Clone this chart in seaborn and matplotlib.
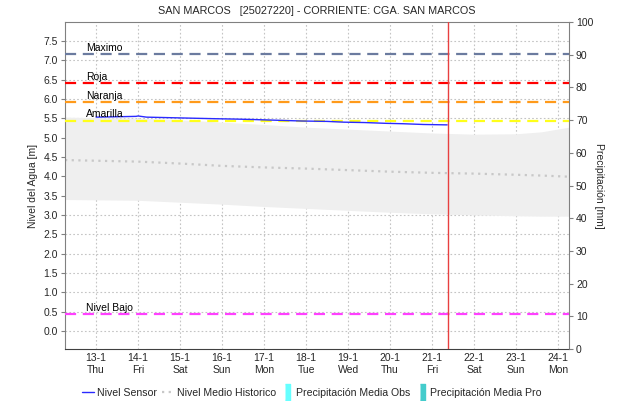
import numpy as np
import pandas as pd
import matplotlib
matplotlib.use('Agg')
import matplotlib.pyplot as plt
from matplotlib.lines import Line2D
import seaborn as sns

# days counted from 13-1 00:00
day_labels = ['13-1\nThu', '14-1\nFri', '15-1\nSat', '16-1\nSun', '17-1\nMon', '18-1\nTue',
              '19-1\nWed', '20-1\nThu', '21-1\nFri', '22-1\nSat', '23-1\nSun', '24-1\nMon']

sensor_t = [0.0, 0.5, 0.95, 1.0, 1.2, 2.0, 2.8, 3.3, 3.7, 4.3, 4.9, 5.5, 5.9, 6.4, 6.9, 7.3, 7.8, 8.36]
sensor_v = [5.53, 5.54, 5.55, 5.56, 5.53, 5.51, 5.49, 5.48, 5.47, 5.45, 5.43, 5.42, 5.40, 5.39, 5.37, 5.36, 5.34, 5.33]

hist_t = [-0.74, 1, 2, 3, 4, 5, 6, 7, 8, 9, 10, 10.6, 11.26]
hist_upper = [5.53, 5.50, 5.46, 5.40, 5.34, 5.27, 5.22, 5.17, 5.12, 5.09, 5.10, 5.15, 5.27]
hist_lower = [3.40, 3.38, 3.33, 3.28, 3.22, 3.17, 3.12, 3.07, 3.03, 3.00, 2.98, 2.97, 2.97]
hist_mean = [4.42, 4.38, 4.33, 4.27, 4.23, 4.20, 4.16, 4.12, 4.09, 4.07, 4.04, 4.02, 3.99]

thr_names = ['Maximo', 'Roja', 'Naranja', 'Amarilla', 'Nivel Bajo']
thr_values = [7.15, 6.42, 5.92, 5.44, 0.43]
thr_colors = ['#6b7b9f', '#ff0000', '#ff9a1a', '#ffff1a', '#ff40ff']

now_t = 8.38

sns.set_style('white')
plt.rcParams['font.family'] = ['Liberation Sans', 'DejaVu Sans']
plt.rcParams['font.size'] = 7.5

fig = plt.figure(figsize=(6.21, 4.01), dpi=100)
ax = fig.add_axes([65/621, 52/401, 504/621, 327/401])

ax.fill_between(hist_t, hist_lower, hist_upper, color='#efefef', lw=0, zorder=1)
hist_df = pd.DataFrame({'t': hist_t, 'v': hist_mean})
sns.lineplot(data=hist_df, x='t', y='v', ax=ax, color='#c8c8c8', lw=1.6,
             linestyle=(0, (1, 2)), zorder=2)

for name, val, col in zip(thr_names, thr_values, thr_colors):
    ax.axhline(val, color=col, lw=1.6, ls=(0, (5, 3)), zorder=3)
    ax.text(-0.24, val + 0.03, name, fontsize=7.5, color='black', va='bottom', zorder=5)

sens_df = pd.DataFrame({'t': sensor_t, 'v': sensor_v})
sns.lineplot(data=sens_df, x='t', y='v', ax=ax, color='#2a2aff', lw=1.0, zorder=4)

ax.axvline(now_t, color='#e84040', lw=1.0, zorder=5)

ax.set_xlim(-0.74, 11.26)
ax.set_ylim(-0.465, 7.99)
ax.set_xticks(range(len(day_labels)))
ax.set_xticklabels(day_labels)
ax.set_yticks(np.arange(0, 7.6, 0.5))
ax.set_yticklabels([f'{v:.1f}' for v in np.arange(0, 7.6, 0.5)])
ax.grid(True, color='#c4c4c4', ls=(0, (1.5, 2)), lw=0.8)
ax.set_axisbelow(True)
ax.tick_params(axis='y', length=3, color='#808080', pad=2, labelsize=7.5)
ax.tick_params(axis='x', length=0, pad=3, labelsize=7.5)
ax.set_xlabel('')
ax.set_ylabel('Nivel del Agua [m]', fontsize=7.5, labelpad=4)
for s in ax.spines.values():
    s.set_color('#808080')
    s.set_linewidth(0.8)
ax.spines['bottom'].set_color('#404040')
ax.spines['bottom'].set_linestyle((0, (1, 1)))

ax2 = ax.twinx()
prec_obs = [0] * len(day_labels)
prec_pro = [0] * len(day_labels)
ax2.bar(range(len(day_labels)), prec_obs, color='#66ffff', width=0.4)
ax2.bar(range(len(day_labels)), prec_pro, color='#44cccc', width=0.4)
ax2.set_ylim(0, 100)
ax2.set_yticks(range(0, 101, 10))
ax2.tick_params(axis='y', length=3, color='#808080', pad=2, labelsize=7.5)
ax2.set_ylabel('Precipitación [mm]', rotation=270, fontsize=7.5, labelpad=8)
for s in ax2.spines.values():
    s.set_visible(False)

ax.set_title('SAN MARCOS   [25027220] - CORRIENTE: CGA. SAN MARCOS', fontsize=7.8, pad=6)

bar_marker = [(-0.3, -1), (0.3, -1), (0.3, 1), (-0.3, 1)]
handles = [Line2D([], [], color='#2a2aff', lw=1.0),
           Line2D([], [], color='#c8c8c8', lw=1.6, ls=(0, (1, 2))),
           Line2D([], [], ls='', marker=bar_marker, markersize=12, color='#66ffff'),
           Line2D([], [], ls='', marker=bar_marker, markersize=12, color='#44cccc')]
labels = ['Nivel Sensor', 'Nivel Medio Historico', 'Precipitación Media Obs', 'Precipitación Media Pro']
fig.legend(handles, labels, loc='center', bbox_to_anchor=(0.502, 0.02), ncol=4, frameon=False,
           fontsize=7.6, handlelength=1.2, handletextpad=0.2, columnspacing=0.5)

fig.savefig('out.png', dpi=100)
